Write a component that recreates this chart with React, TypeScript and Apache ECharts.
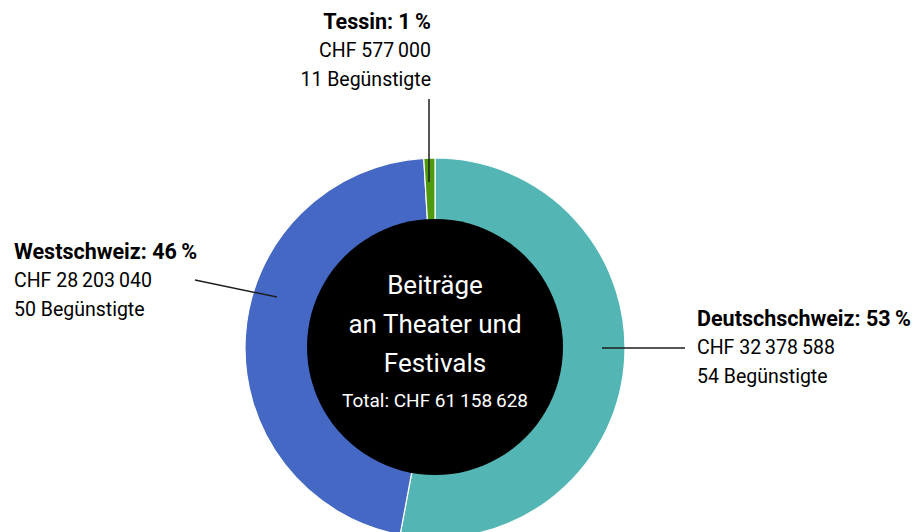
import React, { useEffect, useRef } from "react";
import * as echarts from "echarts";

const regions = ["Deutschschweiz", "Westschweiz", "Tessin"];
const amounts = [32378588, 28203040, 577000];
const beneficiaries = [54, 50, 11];
const colors = ["#53b6b4", "#4468c4", "#4e9a0c"];
const centerLines = ["Beiträge", "an Theater und", "Festivals"];
const totalAmount = 61158628;

const fmt = (n: number) => String(n).replace(/\B(?=(\d{3})+(?!\d))/g, "\u2009");

export default function App() {
  const ref = useRef<HTMLDivElement>(null);
  useEffect(() => {
    const chart = echarts.init(ref.current!, null, { renderer: "svg" });
    const total = amounts.reduce((a, b) => a + b, 0);
    const pct = amounts.map((v) => Math.round((v / total) * 100));
    const font = "Roboto, 'Noto Sans', sans-serif";
    const labelPos = [
      { x: 697, y: 304, align: "left" },
      { x: 14, y: 237, align: "left" },
      { x: 431, y: 7, align: "right" },
    ];
    const labelTexts = regions.map((r, i) => ({
      type: "text",
      x: labelPos[i].x,
      y: labelPos[i].y,
      z: 100,
      style: {
        text: `{b|${r}: ${pct[i]}\u2009%}\n{n|CHF ${fmt(amounts[i])}}\n{n|${beneficiaries[i]} Begünstigte}`,
        align: labelPos[i].align,
        verticalAlign: "top",
        fontFamily: font,
        rich: {
          b: { fontSize: 21.5, fontWeight: "bold", fill: "#000", lineHeight: 29, fontFamily: font },
          n: { fontSize: 19.5, fill: "#000", lineHeight: 29, fontFamily: font },
        },
      },
    }));
    const lines = [
      [602, 348, 685, 348],
      [195, 280, 277, 297],
      [429, 99, 429, 182],
    ].map((p) => ({
      type: "line",
      z: 101,
      shape: { x1: p[0], y1: p[1], x2: p[2], y2: p[3] },
      style: { stroke: "#1e1e1e", lineWidth: 1.5 },
    }));
    chart.setOption({
      animation: false,
      series: [
        {
          type: "pie",
          center: [435, 348],
          radius: [0, 190],
          startAngle: 90,
          clockwise: true,
          label: { show: false },
          labelLine: { show: false },
          silent: true,
          itemStyle: { borderColor: "#fff", borderWidth: 1.2 },
          data: regions.map((r, i) => ({ name: r, value: amounts[i], itemStyle: { color: colors[i] } })),
        },
      ],
      graphic: [
        {
          type: "circle",
          z: 99,
          shape: { cx: 435, cy: 347, r: 128 },
          style: { fill: "#000" },
        },
        ...centerLines.map((t, i) => ({
          type: "text",
          z: 100,
          x: 435,
          y: 285 + i * 39,
          style: {
            text: t,
            align: "center",
            verticalAlign: "middle",
            fill: "#fff",
            fontSize: 26,
            fontFamily: font,
          },
        })),
        {
          type: "text",
          z: 100,
          x: 435,
          y: 400,
          style: {
            text: `Total: CHF ${fmt(totalAmount)}`,
            align: "center",
            verticalAlign: "middle",
            fill: "#fff",
            fontSize: 19,
            fontFamily: font,
          },
        },
        ...labelTexts,
        ...lines,
      ],
    });
    return () => chart.dispose();
  }, []);
  return <div ref={ref} style={{ width: 920, height: 532, position: "absolute", left: 0, top: 0 }} />;
}
